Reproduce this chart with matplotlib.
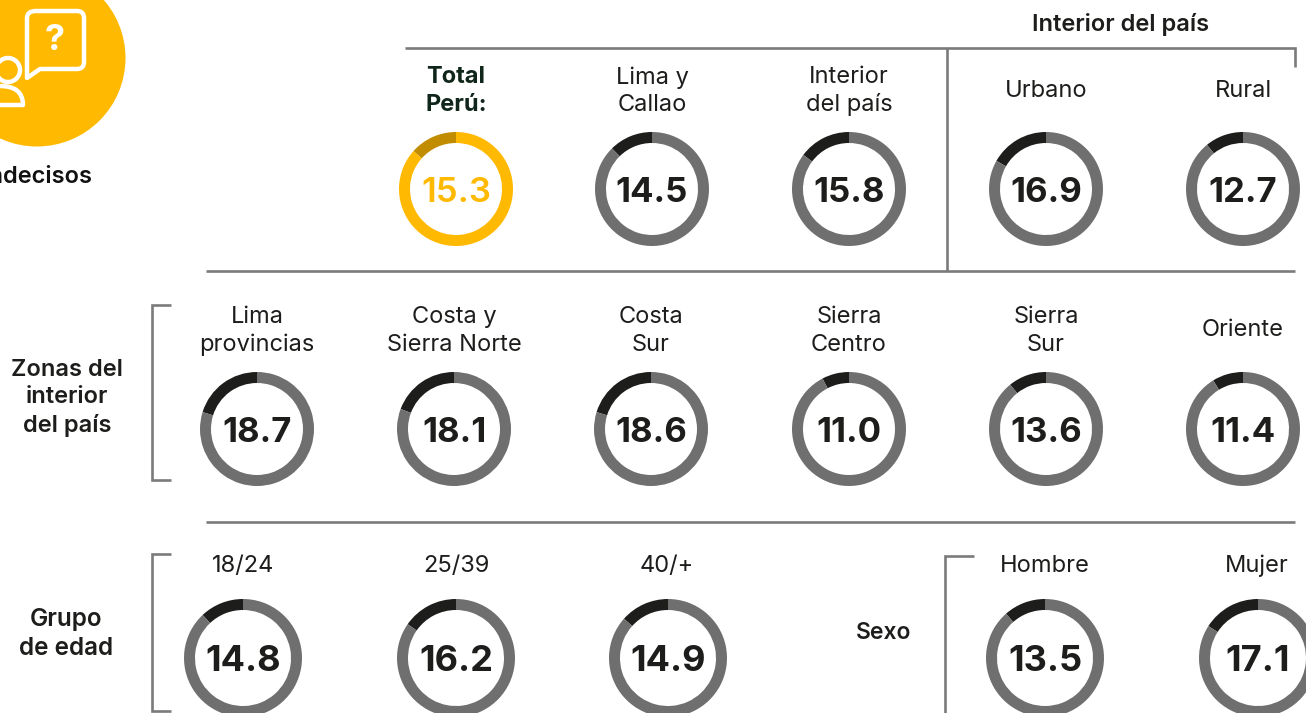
import matplotlib
matplotlib.use('Agg')
import matplotlib.pyplot as plt
from matplotlib.patches import Circle, PathPatch
from matplotlib.path import Path

plt.rcParams['font.family'] = ['Inter', 'DejaVu Sans']

W = 1306
H = 713

# datos
labels_1 = ['Total\nPerú:', 'Lima y\nCallao', 'Interior\ndel país', 'Urbano', 'Rural']
values_1 = [15.3, 14.5, 15.8, 16.9, 12.7]
arcs_1 = [13.4, 12.4, 14.8, 16.8, 10.9]  # lo que mide el arco oscuro en la imagen, en %
labels_2 = ['Lima\nprovincias', 'Costa y\nSierra Norte', 'Costa\nSur', 'Sierra\nCentro', 'Sierra\nSur', 'Oriente']
values_2 = [18.7, 18.1, 18.6, 11.0, 13.6, 11.4]
arcs_2 = [20.2, 19.3, 20.2, 7.7, 10.8, 8.75]
labels_3 = ['18/24', '25/39', '40/+', 'Hombre', 'Mujer']
values_3 = [14.8, 16.2, 14.9, 13.5, 17.1]
arcs_3 = [12.0, 15.3, 13.4, 11.5, 15.9]

# posiciones en pixeles
x_1 = [456, 652, 849, 1046, 1243]
x_2 = [257, 454, 651, 849, 1046, 1243]
x_3 = [243, 456, 668, 1045, 1258]
x_lab_3 = [243, 456, 667, 1045, 1257]

GREY = '#6f6f6f'
DARK = '#1d1d1b'
LINE = '#7b7b7b'
YELLOW = '#ffb900'
DARK_YELLOW = '#c28c00'

fig = plt.figure(figsize=(W / 100, H / 100), dpi=100)
ax = fig.add_axes([0, 0, 1, 1])


def Y(y):
    return H - y


def ring(x, y, v, arc, r, c_bg=GREY, c_arc=DARK, c_txt=DARK, weight='bold', fs=25):
    ax.pie([arc, 100 - arc], colors=[c_arc, c_bg], startangle=90, center=(x, Y(y)), radius=r,
           wedgeprops={'width': 11, 'linewidth': 0})
    ax.text(x, Y(y), f'{v:.1f}', ha='center', va='center_baseline', fontsize=fs, fontweight=weight, color=c_txt)


def label(x, y, s, weight='normal', color=DARK, fs=17):
    ax.text(x, Y(y), s, ha='center', va='center', fontsize=fs, fontweight=weight, color=color,
            linespacing=1.3)


def path(xs, ys):
    ax.plot(xs, [Y(v) for v in ys], color=LINE, lw=1.9, solid_capstyle='butt', solid_joinstyle='miter')


# fila 1
for i in range(len(x_1)):
    if i == 0:
        ring(x_1[i], 189, values_1[i], arcs_1[i], 57, YELLOW, DARK_YELLOW, YELLOW, 'semibold')
        label(x_1[i], 91, labels_1[i], 'bold', '#10261a')
    else:
        ring(x_1[i], 189, values_1[i], arcs_1[i], 57)
        label(x_1[i], 91, labels_1[i])

# fila 2
for i in range(len(x_2)):
    ring(x_2[i], 429, values_2[i], arcs_2[i], 57)
    label(x_2[i], 331 if i < 5 else 330, labels_2[i])

# fila 3
for i in range(len(x_3)):
    ring(x_3[i], 658, values_3[i], arcs_3[i], 59, fs=26)
    label(x_lab_3[i], 566, labels_3[i])

# lineas y corchetes
path([405, 1295, 1295], [48, 48, 67])
path([947, 947], [48, 271])
path([206, 1295], [271, 271])
path([206, 1295], [522, 522])
path([171, 152, 152, 171], [305, 305, 480, 480])
path([171, 152, 152, 171], [554, 554, 711, 711])
path([974, 945, 945], [556, 556, 713])

# titulos
label(1121, 25, 'Interior del país', 'semibold', DARK, 17)
label(67, 398, 'Zonas del\ninterior\ndel país', 'semibold', DARK, 17)
label(66, 634, 'Grupo\nde edad', 'semibold', DARK, 17.5)
label(884, 633, 'Sexo', 'semibold', DARK, 16.5)
ax.text(92, Y(177), 'Indecisos', ha='right', va='center', fontsize=17, fontweight='semibold', color='#111111')

# icono
ax.add_patch(Circle((37, Y(58)), 88.5, color=YELLOW, lw=0))
bubble = [(36, 11), (77, 11), (84, 11), (84, 18), (84, 62), (84, 69), (77, 69), (40, 69), (27, 78), (27, 18), (27, 11), (36, 11)]
codes = [Path.MOVETO, Path.LINETO, Path.CURVE3, Path.CURVE3, Path.LINETO, Path.CURVE3, Path.CURVE3,
         Path.LINETO, Path.LINETO, Path.LINETO, Path.CURVE3, Path.CURVE3]
ax.add_patch(PathPatch(Path([(a, Y(b)) for a, b in bubble], codes), fc='none', ec='white', lw=3.2, joinstyle='round'))
ax.text(55, Y(41), '?', ha='center', va='center', fontsize=26, fontweight='bold', color='white')
ax.add_patch(Circle((8, Y(70)), 12, fc='none', ec='white', lw=3.2))
body = [(-12, 105), (23, 105), (23, 86), (0, 86)]
codes_b = [Path.MOVETO, Path.LINETO, Path.CURVE3, Path.CURVE3]
ax.add_patch(PathPatch(Path([(a, Y(b)) for a, b in body], codes_b), fc='none', ec='white', lw=3.2, joinstyle='round'))

ax.set_xlim(0, W)
ax.set_ylim(0, H)
ax.set_aspect('auto')
ax.axis('off')
fig.savefig('out.png', dpi=100)
